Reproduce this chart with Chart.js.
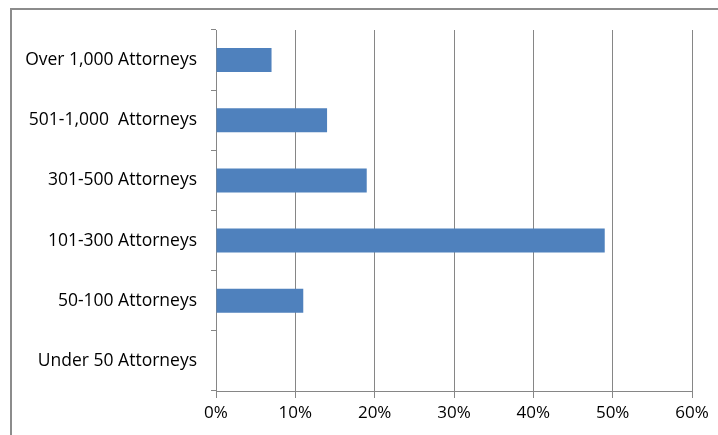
<!DOCTYPE html>
<html>
<head>
<meta charset="utf-8">
<script src="https://cdn.jsdelivr.net/npm/chart.js@4"></script>
<style>
    html, body { margin: 0; padding: 0; background: #fff; overflow: hidden; }
    #wrap { position: relative; width: 718px; height: 435px; }
    #frame { position: absolute; left: 10px; top: 8px; width: 720px; height: 440px; border: 2px solid #8c8c8c; box-sizing: border-box; }
    canvas { position: absolute; left: 0; top: 0; }
</style>
</head>
<body>
<div id="wrap">
    <div id="frame"></div>
    <canvas id="chart" width="718" height="435"></canvas>
</div>
<script>
const categories = ['Over 1,000 Attorneys', '501-1,000  Attorneys', '301-500 Attorneys', '101-300 Attorneys', '50-100 Attorneys', 'Under 50 Attorneys'];
const shares = [7, 14, 19, 49, 11, 0];
const xTicks = [0, 10, 20, 30, 40, 50, 60];

const axisGray = '#868686';

new Chart(document.getElementById('chart'), {
    type: 'bar',
    data: {
        labels: categories,
        datasets: [{
            data: shares,
            backgroundColor: '#4f81bd',
            borderWidth: 0,
            categoryPercentage: 1,
            barPercentage: 0.4,
        }]
    },
    options: {
        indexAxis: 'y',
        responsive: false,
        animation: false,
        layout: { padding: { top: 30, right: 26, left: 0, bottom: 0 } },
        scales: {
            x: {
                min: 0,
                max: 60,
                afterBuildTicks: function (scale) {
                    scale.ticks = xTicks.map(function (v) { return { value: v }; });
                },
                afterFit: function (scale) { scale.height = 44; },
                ticks: {
                    color: '#000',
                    font: { family: 'Open Sans', size: 17 },
                    padding: 5,
                    maxRotation: 0,
                    callback: function (v) { return v + '%'; }
                },
                grid: { color: axisGray, tickLength: 7, lineWidth: 1 },
                border: { color: axisGray }
            },
            y: {
                afterFit: function (scale) { scale.width = 216; },
                ticks: {
                    color: '#000',
                    font: { family: 'Open Sans', size: 17.5 },
                    padding: 14
                },
                grid: { drawOnChartArea: false, color: axisGray, tickLength: 5, offset: true },
                border: { color: axisGray }
            }
        },
        plugins: {
            legend: { display: false },
            tooltip: { enabled: false }
        }
    }
});
</script>
</body>
</html>
